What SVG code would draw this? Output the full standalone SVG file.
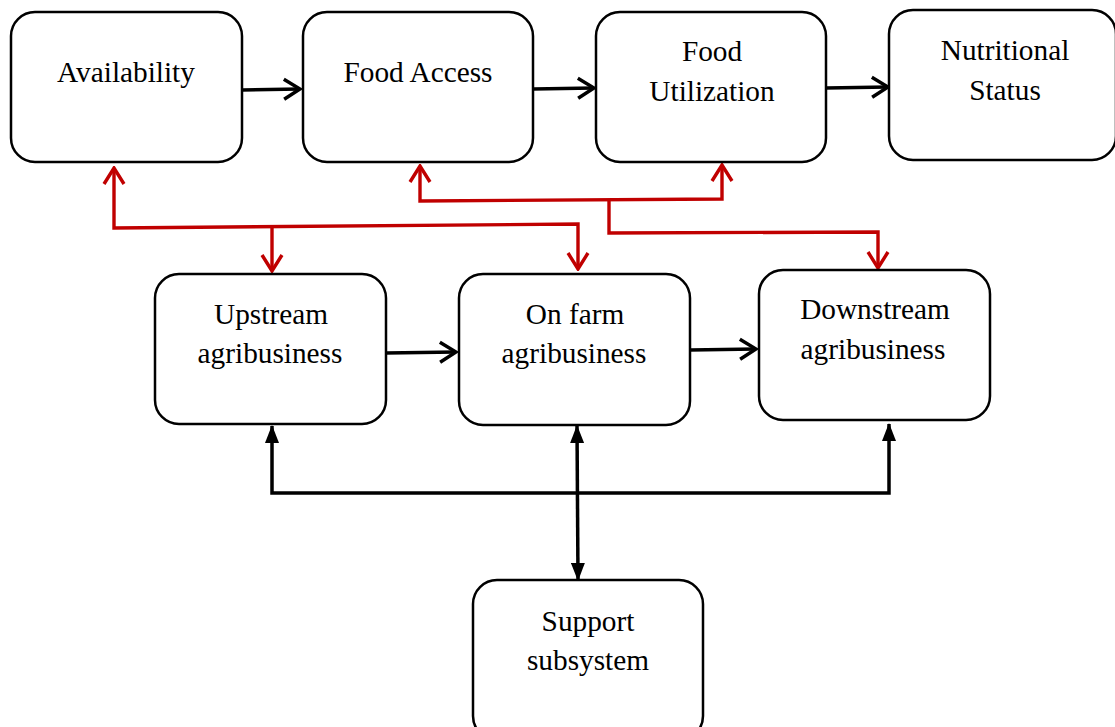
<svg xmlns="http://www.w3.org/2000/svg" width="1115" height="727" viewBox="0 0 1115 727">
<style>
.box{fill:#fff;stroke:#000;stroke-width:2.5}
.t{font-family:"Liberation Serif","Times New Roman",serif;font-size:29.3px;fill:#000;text-anchor:middle}
.blk{fill:none;stroke:#000;stroke-width:3.5;stroke-linejoin:miter}
.red{fill:none;stroke:#C00000;stroke-width:3.4}
</style>
<defs>
<marker id="chevB" markerUnits="userSpaceOnUse" viewBox="0 0 20 24" refX="18" refY="12" markerWidth="20" markerHeight="24" orient="auto-start-reverse">
<path d="M2,2 L18,12 L2,22" fill="none" stroke="#000" stroke-width="3.5"/>
</marker>
<marker id="chevR" markerUnits="userSpaceOnUse" viewBox="0 0 20 24" refX="18" refY="12" markerWidth="20" markerHeight="24" orient="auto-start-reverse">
<path d="M2,2 L18,12 L2,22" fill="none" stroke="#C00000" stroke-width="3.4"/>
</marker>
<marker id="tri" markerUnits="userSpaceOnUse" viewBox="0 0 18 14" refX="17" refY="7" markerWidth="18" markerHeight="14" orient="auto-start-reverse">
<path d="M0,0 L18,7 L0,14 Z" fill="#000"/>
</marker>
</defs>
<rect width="1115" height="727" fill="#fff"/>
<g id="connectors">
<path class="blk" d="M242,90 L300,89" marker-end="url(#chevB)"/>
<path class="blk" d="M533,89 L594,88" marker-end="url(#chevB)"/>
<path class="blk" d="M826,88 L888,87" marker-end="url(#chevB)"/>
<path class="blk" d="M386,353 L456,352" marker-end="url(#chevB)"/>
<path class="blk" d="M690,350 L756,349" marker-end="url(#chevB)"/>
<path class="blk" d="M272,426 L272,493 L889,493 L889,424" marker-start="url(#tri)" marker-end="url(#tri)"/>
<path class="blk" d="M577,426 L578,580" marker-start="url(#tri)" marker-end="url(#tri)"/>
<path class="red" d="M114,168 L114,228 L578,224 L578,269" marker-start="url(#chevR)" marker-end="url(#chevR)"/>
<path class="red" d="M272,228 L272,271" marker-end="url(#chevR)"/>
<path class="red" d="M420,166 L420,201 L722,199 L722,165" marker-start="url(#chevR)" marker-end="url(#chevR)"/>
<path class="red" d="M609,200 L609,233 L878,232 L878,268" marker-end="url(#chevR)"/>
</g>
<g id="availability">
<rect class="box" x="11" y="12" width="231" height="150" rx="24"/>
<text class="t" x="126" y="82">Availability</text>
</g>
<g id="food-access">
<rect class="box" x="303" y="12" width="230" height="150" rx="24"/>
<text class="t" x="418" y="82">Food Access</text>
</g>
<g id="food-utilization">
<rect class="box" x="596" y="12" width="230" height="150" rx="24"/>
<text class="t" x="712" y="61">Food</text>
<text class="t" x="712" y="101">Utilization</text>
</g>
<g id="nutritional-status">
<rect class="box" x="889" y="10" width="227" height="150" rx="24"/>
<text class="t" x="1005" y="60">Nutritional</text>
<text class="t" x="1005" y="100">Status</text>
</g>
<g id="upstream">
<rect class="box" x="155" y="274" width="231" height="150" rx="24"/>
<text class="t" x="271" y="324">Upstream</text>
<text class="t" x="270" y="363">agribusiness</text>
</g>
<g id="on-farm">
<rect class="box" x="459" y="274" width="231" height="151" rx="24"/>
<text class="t" x="575" y="324">On farm</text>
<text class="t" x="574" y="363">agribusiness</text>
</g>
<g id="downstream">
<rect class="box" x="759" y="270" width="231" height="150" rx="24"/>
<text class="t" x="875" y="319">Downstream</text>
<text class="t" x="873" y="359">agribusiness</text>
</g>
<g id="support">
<rect class="box" x="473" y="580" width="230" height="160" rx="24"/>
<text class="t" x="588" y="631">Support</text>
<text class="t" x="588" y="670">subsystem</text>
</g>
</svg>
